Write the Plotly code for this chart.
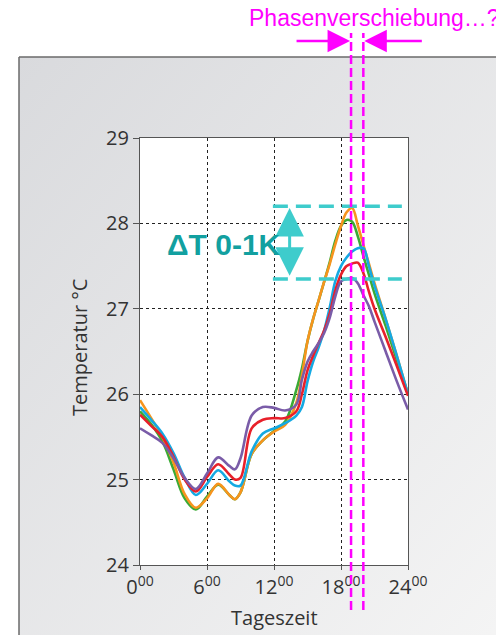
import base64
import plotly.graph_objects as go

# ---- data ----
hours = [0, 1, 2, 3, 4, 5, 6, 7, 8, 8.5, 9, 10, 11, 12, 13, 14, 14.5, 15, 15.5,
         16, 16.5, 17, 17.5, 18, 18.5, 19, 19.5, 20, 20.5, 21, 22, 23, 24]

temp_green = [25.80, 25.65, 25.45, 25.12, 24.78, 24.65, 24.80, 24.94, 24.82, 24.77, 24.85,
              25.30, 25.46, 25.57, 25.68, 26.05, 26.30, 26.62, 26.88, 27.10, 27.32, 27.55,
              27.80, 27.97, 28.04, 28.02, 27.85, 27.62, 27.40, 27.18, 26.80, 26.40, 26.00]
temp_orange = [25.93, 25.72, 25.50, 25.20, 24.83, 24.67, 24.78, 24.95, 24.82, 24.77, 24.85,
               25.30, 25.46, 25.56, 25.64, 25.90, 26.22, 26.62, 26.88, 27.10, 27.32, 27.53,
               27.76, 27.97, 28.13, 28.18, 27.98, 27.75, 27.53, 27.30, 26.88, 26.45, 26.00]
temp_blue = [25.85, 25.70, 25.54, 25.31, 25.02, 24.82, 24.95, 25.11, 24.98, 24.93, 24.93,
             25.33, 25.54, 25.60, 25.66, 25.75, 25.85, 26.15, 26.38, 26.55, 26.75, 27.02,
             27.33, 27.50, 27.60, 27.67, 27.71, 27.71, 27.50, 27.27, 26.88, 26.45, 26.00]
temp_red = [25.76, 25.63, 25.50, 25.27, 25.00, 24.86, 25.03, 25.18, 25.06, 25.00, 25.02,
            25.60, 25.70, 25.72, 25.72, 25.80, 26.00, 26.28, 26.45, 26.60, 26.75, 26.95,
            27.22, 27.40, 27.50, 27.53, 27.54, 27.42, 27.20, 27.00, 26.67, 26.33, 25.98]
temp_purple = [25.60, 25.52, 25.43, 25.25, 25.02, 24.89, 25.07, 25.26, 25.16, 25.12, 25.25,
               25.75, 25.85, 25.84, 25.81, 25.88, 26.17, 26.38, 26.50, 26.60, 26.72, 26.90,
               27.15, 27.32, 27.35, 27.36, 27.30, 27.16, 27.03, 26.85, 26.50, 26.15, 25.82]

x_tickvals = [0, 6, 12, 18, 24]
x_ticktext = ["0<sup>00</sup>", "6<sup>00</sup>", "12<sup>00</sup>", "18<sup>00</sup>", "24<sup>00</sup>"]
y_tickvals = [24, 25, 26, 27, 28, 29]

phase_lines = [18.9, 20.0]          # hours of the two magenta markers
band_top, band_bottom = 28.2, 27.35  # delta-T band
band_x = [11.9, 23.45]
arrow_x = 13.4

series = [
    ("green", temp_green, "#3aaa35"),
    ("orange", temp_orange, "#f7941d"),
    ("blue", temp_blue, "#14a9e3"),
    ("red", temp_red, "#e8202a"),
    ("purple", temp_purple, "#7a5ca8"),
]

FONT = "Open Sans"
MAGENTA = "#ff00ff"
TEAL = "#3ecccc"
TEAL_TXT = "#12a0a0"

fig = go.Figure()
for name, vals, col in series:
    fig.add_trace(go.Scatter(x=hours, y=vals, mode="lines", name=name,
                             line=dict(color=col, width=2.6, shape="spline", smoothing=1.0),
                             showlegend=False, hoverinfo="skip"))

# geometry (page pixels of the reference); page has an 8px body offset
OFF = 8
W, H = 268, 427          # plot area size
REF_L, REF_T = 140, 138  # plot area origin on the page
L, T = REF_L - OFF, REF_T - OFF
px = lambda p: (p - REF_L) / W
py = lambda p: (REF_T + H - p) / H

panel_x0, panel_y0 = 19, 57
svg = ('<svg xmlns="http://www.w3.org/2000/svg" width="500" height="590" viewBox="0 0 500 590" '
       'preserveAspectRatio="none"><defs><linearGradient id="g" x1="0" y1="0" x2="1" y2="1">'
       '<stop offset="0" stop-color="#d9dadd"/><stop offset="1" stop-color="#f5f5f5"/>'
       '</linearGradient></defs><rect width="500" height="590" fill="url(#g)"/></svg>')
src = "data:image/svg+xml;base64," + base64.b64encode(svg.encode()).decode()
fig.add_layout_image(dict(source=src, xref="paper", yref="paper",
                          x=px(panel_x0), y=py(panel_y0), sizex=500 / W, sizey=590 / H,
                          xanchor="left", yanchor="top", sizing="stretch", layer="below"))

shapes = []
shapes.append(dict(type="rect", xref="paper", yref="paper", x0=0, x1=1, y0=0, y1=1,
                   fillcolor="white", line=dict(width=0), layer="below"))
shapes.append(dict(type="line", xref="paper", yref="paper", x0=px(panel_x0), x1=px(530),
                   y0=py(panel_y0), y1=py(panel_y0), line=dict(color="#6a6a6a", width=1.5), layer="below"))
shapes.append(dict(type="line", xref="paper", yref="paper", x0=px(panel_x0), x1=px(panel_x0),
                   y0=py(panel_y0), y1=py(660), line=dict(color="#6a6a6a", width=1.5), layer="below"))
for yv in (band_top, band_bottom):
    shapes.append(dict(type="line", xref="x", yref="y", x0=band_x[0], x1=band_x[1], y0=yv, y1=yv,
                       line=dict(color=TEAL, width=3.5, dash="15px,8px"), layer="above"))
for xv in phase_lines:
    shapes.append(dict(type="line", xref="x", yref="paper", x0=xv, x1=xv, y0=py(610), y1=py(33),
                       line=dict(color=MAGENTA, width=2.5, dash="9px,4px"), layer="above"))
fig.update_layout(shapes=shapes)

ann = []
ann.append(dict(x=arrow_x, y=band_top - 0.02, ax=arrow_x, ay=band_bottom + 0.02, xref="x", yref="y",
                axref="x", ayref="y", text="", showarrow=True, arrowhead=2, arrowside="end+start",
                arrowwidth=3, arrowsize=1.9, arrowcolor=TEAL))
ann.append(dict(x=7.5, y=27.75, xref="x", yref="y", text="<b>ΔT 0-1K</b>", showarrow=False,
                xanchor="center", yanchor="middle",
                font=dict(family="Liberation Sans", size=30, color=TEAL_TXT)))
ann.append(dict(x=px(247), y=py(18), xref="paper", yref="paper", xanchor="left", yanchor="middle",
                text="Phasenverschiebung…?", showarrow=False,
                font=dict(family="Liberation Sans", size=23, color=MAGENTA)))
ann.append(dict(x=phase_lines[0], y=py(41), xref="x", yref="paper", ax=-56, ay=0, text="",
                showarrow=True, arrowhead=2, arrowwidth=2.5, arrowsize=1.8, arrowcolor=MAGENTA,
                standoff=1))
ann.append(dict(x=phase_lines[1], y=py(41), xref="x", yref="paper", ax=60, ay=0, text="",
                showarrow=True, arrowhead=2, arrowwidth=2.5, arrowsize=1.8, arrowcolor=MAGENTA,
                standoff=1))
ann.append(dict(x=px(274), y=py(617), xref="paper", yref="paper", text="Tageszeit", showarrow=False,
                xanchor="center", yanchor="middle",
                font=dict(family=FONT, size=20, color="#333333")))
ann.append(dict(x=px(79), y=py(348), xref="paper", yref="paper", text="Temperatur °C", showarrow=False,
                xanchor="center", yanchor="middle", textangle=-90,
                font=dict(family=FONT, size=20, color="#333333")))
fig.update_layout(annotations=ann)

fig.update_xaxes(range=[0, 24], tickvals=x_tickvals, ticktext=x_ticktext,
                 showgrid=True, gridcolor="#222222", griddash="dot", gridwidth=1,
                 showline=True, linecolor="#555555", linewidth=1.3, mirror=True,
                 zeroline=False, ticks="outside", ticklen=4, tickcolor="#555555",
                 tickfont=dict(family=FONT, size=20, color="#333333"))
fig.update_yaxes(range=[24, 29], tickvals=y_tickvals,
                 showgrid=True, gridcolor="#222222", griddash="dot", gridwidth=1,
                 showline=True, linecolor="#555555", linewidth=1.3, mirror=True,
                 zeroline=False, ticks="outside", ticklen=6, tickcolor="#555555",
                 tickfont=dict(family=FONT, size=20, color="#333333"))

fig.update_layout(width=504, height=635, autosize=False,
                  margin=dict(l=L, r=504 - L - W, t=T, b=635 - T - H, pad=0),
                  paper_bgcolor="white", plot_bgcolor="white")

fig.write_html("out.html")
